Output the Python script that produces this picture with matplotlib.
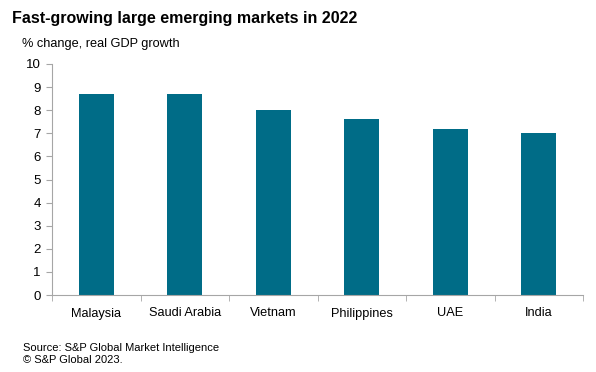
import matplotlib
matplotlib.use("Agg")
import matplotlib.pyplot as plt

categories = ["Malaysia", "Saudi Arabia", "Vietnam", "Philippines", "UAE", "India"]
values = [8.7, 8.7, 8.0, 7.6, 7.2, 7.0]
yticks = list(range(0, 11))

plt.rcParams['font.family'] = ['Liberation Sans', 'DejaVu Sans']

fig = plt.figure(figsize=(5.96, 3.72), dpi=100)
ax = fig.add_axes([52/596, 77/372, 531/596, 231/372])
x = list(range(len(categories)))
ax.bar(x, values, width=0.4, color="#006C87")
ax.set_xlim(-0.5, len(categories) - 0.5)
ax.set_ylim(0, 10)
ax.set_yticks(yticks)
ax.set_yticklabels([str(t) for t in yticks], fontsize=9.5)
ax.set_xticks(x)
ax.set_xticklabels(categories, fontsize=9.2)
ax.set_xticks([i + 0.5 for i in range(-1, len(categories))], minor=True)
ax.tick_params(axis='x', which='major', length=0, pad=9)
ax.tick_params(axis='x', which='minor', length=4, color="#A6A6A6", direction='out')
ax.tick_params(axis='y', length=4, color="#A6A6A6", pad=4)
for s in ["top", "right"]:
    ax.spines[s].set_visible(False)
for s in ["left", "bottom"]:
    ax.spines[s].set_color("#A6A6A6")
    ax.spines[s].set_linewidth(0.8)

fig.text(12/596, 1 - 19/372, "Fast-growing large emerging markets in 2022", fontsize=11.5,
         fontweight='bold', va='center', ha='left')
fig.text(22/596, 1 - 44/372, "% change, real GDP growth", fontsize=9.2, va='center', ha='left')
fig.text(23/596, 1 - 348/372, "Source: S&P Global Market Intelligence", fontsize=8.0, va='center', ha='left')
fig.text(23/596, 1 - 360/372, "© S&P Global 2023.", fontsize=8.0, va='center', ha='left')

fig.savefig("out.png", dpi=100)
